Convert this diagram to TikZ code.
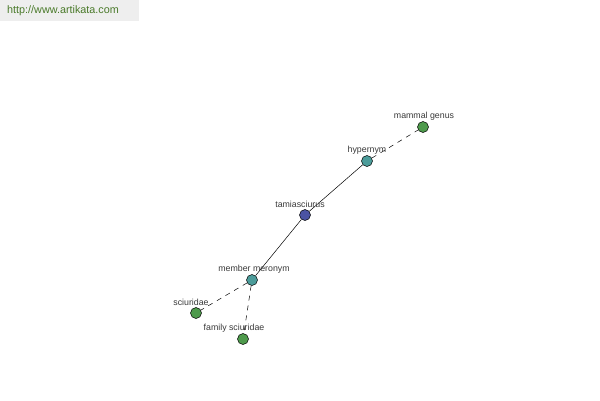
\documentclass[tikz,border=0pt]{standalone}
\usepackage{fontspec}
\setmainfont{Liberation Sans}
\definecolor{gblue}{HTML}{4B53A3}
\definecolor{gteal}{HTML}{4C9C9A}
\definecolor{ggreen}{HTML}{4E9A4C}
\definecolor{hdrbg}{HTML}{EEEEEE}
\definecolor{hdrtx}{HTML}{4A7A2A}
\definecolor{lbl}{HTML}{3A3A3A}
\begin{document}
\begin{tikzpicture}[x=1pt,y=-1pt,
  dot/.style={circle,draw=black,line width=0.5pt,minimum size=11pt,inner sep=0pt},
  lab/.style={font=\fontsize{8.8}{10}\selectfont,text=lbl,inner sep=0pt},
  edge/.style={draw=black,line width=0.5pt},
  dedge/.style={edge,dash pattern=on 5pt off 5pt}]
\useasboundingbox (0,0) rectangle (600,400);
\fill[white] (0,0) rectangle (600,400);
\fill[hdrbg] (0,0) rectangle (139,21);
\node[font=\fontsize{10.8}{12}\selectfont,text=hdrtx,anchor=west,inner sep=0pt] (hdr) at (7,11) {http://www.artikata.com};
\node[dot,fill=ggreen] (mg) at (423,127) {};
\node[dot,fill=gteal] (hy) at (367,161) {};
\node[dot,fill=gblue] (ta) at (305,215) {};
\node[dot,fill=gteal] (mm) at (252,280) {};
\node[dot,fill=ggreen] (sc) at (196,313) {};
\node[dot,fill=ggreen] (fs) at (243,339) {};
\draw[edge] (ta) -- (hy);
\draw[edge] (ta) -- (mm);
\draw[dedge] (hy) -- (mg);
\draw[dedge] (mm) -- (sc);
\draw[dedge] (mm) -- (fs);
\node[lab] (lmg) at (424,116) {mammal genus};
\node[lab] (lhy) at (367,150) {hypernym};
\node[lab] (lta) at (300,204) {tamiasciurus};
\node[lab] (lmm) at (254,269) {member meronym};
\node[lab] (lsc) at (191,302) {sciuridae};
\node[lab] (lfs) at (234,328) {family sciuridae};
\end{tikzpicture}
\end{document}
